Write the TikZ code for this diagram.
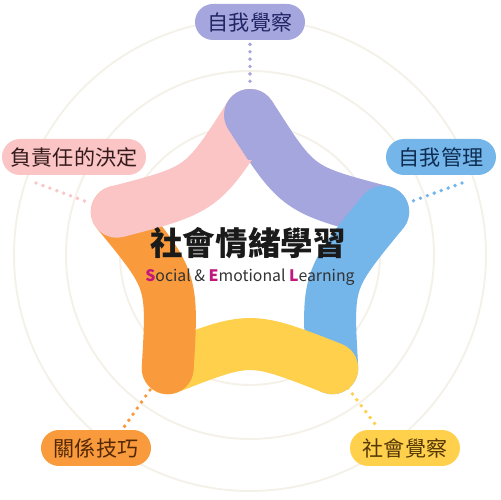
\documentclass[tikz,border=0pt]{standalone}
\usepackage{fontspec}
\setmainfont{Noto Sans CJK TC}
\usepackage{xcolor}
\definecolor{selfaware}{HTML}{A5A6DE}
\definecolor{selfmgmt}{HTML}{74B5EA}
\definecolor{socaware}{HTML}{FED04C}
\definecolor{relskill}{HTML}{F99A3D}
\definecolor{respdec}{HTML}{FBC4C5}
\definecolor{ringline}{HTML}{F4F1E9}
\definecolor{selmag}{HTML}{C2177C}
\definecolor{seltext}{HTML}{333333}
\usetikzlibrary{calc}
\usetikzlibrary{positioning}
\newcommand{\selinit}[1]{\textcolor{selmag}{\textbf{#1}}}

\begin{document}
\begin{tikzpicture}[x=0.02cm, y=0.02cm,
    band/.style={line width=1.04cm, line cap=round},
    pill/.style={rounded corners=0.36cm, minimum height=0.72cm, minimum width=2.2cm, inner xsep=0pt, font=\fontsize{12pt}{14pt}\selectfont},
    dots/.style={line width=2.2pt, line cap=round, dash pattern=on 0pt off 4.2pt}]

    \useasboundingbox (0,0) rectangle (500,500);
    \coordinate (O) at (250,245);

    % rings in the back
    \foreach \r in {130,184,236}
        \draw[ringline, line width=1.1pt] (O) circle[radius=\r];

    % corners of the pentagon and the pull of each side
    \foreach \n/\a in {t/90, r/18, br/-54, bl/-126, l/162}
        \coordinate (v\n) at ($(O)+(\a:140)$);
    \foreach \n/\a in {tr/54, rb/-18, bb/-90, bl/-162, lt/126}
        \coordinate (c\n) at ($(O)+(\a:81)$);

    \draw[band, selfaware] (vt) .. controls (ctr) .. (vr);
    \draw[band, selfmgmt] (vr) .. controls (crb) .. (vbr);
    \draw[band, socaware] (vbr) .. controls (cbb) .. (vbl);
    \draw[band, relskill] (vbl) .. controls (cbl) .. (vl);
    \draw[band, respdec] (vl) .. controls (clt) .. (vt);
    \begin{scope}
        \clip (vt) circle[radius=45];
        \draw[band, selfaware] (vt) .. controls (ctr) .. (vr);
    \end{scope}

    % labels
    \node[pill, fill=selfaware, text={rgb,255:red,33;green,37;blue,100}] (aware) at (250,478) {自我覺察};
    \node[pill, fill=respdec, text={rgb,255:red,52;green,26;blue,26}, minimum width=2.88cm] (decide) at (74,343) {負責任的決定};
    \node[pill, fill=selfmgmt, text={rgb,255:red,15;green,45;blue,82}] (manage) at (441,343) {自我管理};
    \node[pill, fill=relskill, text={rgb,255:red,85;green,40;blue,5}] (relate) at (96,52) {關係技巧};
    \node[pill, fill=socaware, text={rgb,255:red,85;green,55;blue,5}] (social) at (405,52) {社會覺察};

    % dotted leaders
    \coordinate (dt) at (250,412);
    \coordinate (dl1) at (36,317);
    \coordinate (dl2) at (90,297);
    \coordinate (dr1) at (462,317);
    \coordinate (dr2) at (410,298);
    \coordinate (dbl1) at (150,110);
    \coordinate (dbl2) at (122,70);
    \coordinate (dbr1) at (348,112);
    \coordinate (dbr2) at (378,72);
    \draw[dots, selfaware] ([yshift=-0.08cm]aware.south) -- (dt);
    \draw[dots, respdec] (dl1) -- (dl2);
    \draw[dots, selfmgmt] (dr1) -- (dr2);
    \draw[dots, relskill] (dbl1) -- (dbl2);
    \draw[dots, socaware] (dbr1) -- (dbr2);

    % title
    \node[text={rgb,255:red,26;green,26;blue,26}, font=\fontsize{18.5pt}{20pt}\selectfont\bfseries] (title) at (248,257) {社會情緒學習};
    \node[text=seltext, font=\fontsize{9pt}{11pt}\selectfont] (subtitle) at (250,223)
        {\selinit{S}ocial \& \selinit{E}motional \selinit{L}earning};

\end{tikzpicture}
\end{document}
